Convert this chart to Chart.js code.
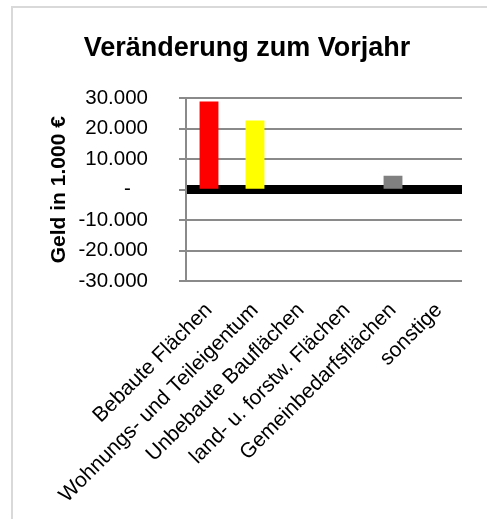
<!DOCTYPE html>
<html>
<head>
<meta charset="utf-8">
<script src="https://cdn.jsdelivr.net/npm/chart.js@4/dist/chart.umd.min.js"></script>
<style>
  html, body { margin: 0; padding: 0; background: #fff; }
  #wrap { position: relative; width: 487px; height: 519px; overflow: hidden; }
  #frame { position: absolute; left: 11px; top: 6px; width: 600px; height: 600px;
           border-left: 2px solid #d9d9d9; border-top: 2px solid #d9d9d9; }
  #myBarChart { position: absolute; left: 0; top: 0; }
</style>
</head>
<body>
<div id="wrap">
  <div id="frame"></div>
  <canvas id="myBarChart" width="487" height="519"></canvas>
</div>
<script>
var categories = ['Bebaute Flächen', 'Wohnungs- und Teileigentum', 'Unbebaute Bauflächen',
                  'land- u. forstw. Flächen', 'Gemeinbedarfsflächen', 'sonstige'];
var values = [29000, 22700, 0, 0, 4600, 0];
var barColors = ['#FF0000', '#FFFF00', '#808080', '#808080', '#808080', '#808080'];
var yMin = -30000, yMax = 30000, yStep = 10000;

var fontName = "'Liberation Sans', Arial, sans-serif";
var gridGray = '#8a8a8a';

function formatGeld(v) {
    if (v === 0) return '-   ';
    var s = String(Math.abs(v)).replace(/\B(?=(\d{3})+(?!\d))/g, '.');
    return (v < 0 ? '-' : '') + s;
}

var ctx = document.getElementById('myBarChart').getContext('2d');
var myBarChart = new Chart(ctx, {
    type: 'bar',
    data: {
        labels: categories,
        datasets: [{
            data: values,
            backgroundColor: barColors,
            borderWidth: 0,
            barPercentage: 0.41,
            categoryPercentage: 1
        }]
    },
    options: {
        responsive: false,
        animation: false,
        layout: { padding: { left: 47, right: 25, top: 0, bottom: 0 } },
        plugins: {
            legend: { display: false },
            tooltip: { enabled: false },
            title: {
                display: true,
                // trailing spaces nudge the centred title a bit to the left
                text: 'Veränderung zum Vorjahr  ',
                color: '#000',
                font: { family: fontName, size: 27, weight: 'bold' },
                padding: { top: 32, bottom: 34 }
            }
        },
        scales: {
            x: {
                grid: { display: false },
                border: { display: false },
                ticks: {
                    color: '#000',
                    font: { family: fontName, size: 21 },
                    minRotation: 45,
                    maxRotation: 45,
                    autoSkip: false,
                    padding: 9
                },
                afterFit: function (scale) { scale.height = 238; }
            },
            y: {
                min: yMin,
                max: yMax,
                ticks: {
                    stepSize: yStep,
                    color: '#000',
                    font: { family: fontName, size: 20.5 },
                    padding: 31,
                    callback: function (v) { return formatGeld(v); }
                },
                grid: {
                    color: gridGray,
                    lineWidth: 2,
                    tickLength: 7,
                    tickColor: gridGray,
                    tickWidth: 2
                },
                border: { display: true, color: gridGray, width: 2 },
                title: {
                    display: true,
                    text: 'Geld in 1.000 €',
                    color: '#000',
                    font: { family: fontName, size: 21, weight: 'bold' },
                    padding: { top: 0, bottom: 0 }
                },
                afterFit: function (scale) { scale.width = 139; }
            },
            // zero line drawn above the bars
            y2: {
                position: 'left',
                min: yMin,
                max: yMax,
                z: 1,
                ticks: { display: false, stepSize: yStep },
                grid: {
                    drawTicks: false,
                    lineWidth: 9,
                    color: function (c) { return c.tick && c.tick.value === 0 ? '#000' : 'rgba(0,0,0,0)'; }
                },
                border: { display: false },
                afterFit: function (scale) { scale.width = 0; }
            }
        }
    }
});
</script>
</body>
</html>
